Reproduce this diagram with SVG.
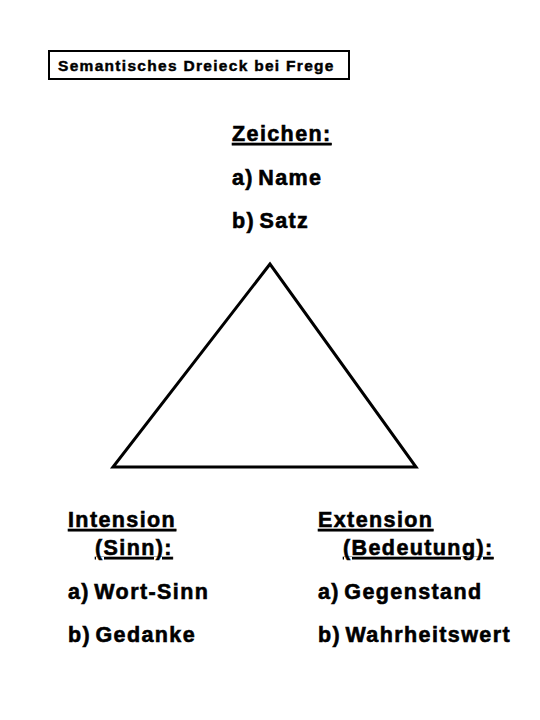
<svg xmlns="http://www.w3.org/2000/svg" width="540" height="720" viewBox="0 0 540 720">
<style>
.t{font-family:"Liberation Sans",Arial,sans-serif;font-weight:bold;font-size:21.5px;letter-spacing:1.4px;word-spacing:-3px;fill:#000;stroke:#000;stroke-width:0.6px}
.u{text-decoration:underline}
.title{font-family:"Liberation Sans",Arial,sans-serif;font-weight:bold;font-size:15.5px;letter-spacing:1.3px;fill:#000;stroke:#000;stroke-width:0.45px}
</style>
<rect width="540" height="720" fill="#fff"/>
<g id="title">
<rect x="49" y="51" width="300" height="28" fill="#fff" stroke="#000" stroke-width="2"/>
<text class="title" x="58" y="71">Semantisches Dreieck bei Frege</text>
</g>
<g id="connectors">
<polygon points="270,264 113,467 416,467" fill="none" stroke="#000" stroke-width="3" stroke-linejoin="miter"/>
</g>
<g id="zeichen">
<text class="t u" x="232" y="141">Zeichen:</text>
<text class="t" x="232" y="185">a) Name</text>
<text class="t" x="232" y="228">b) Satz</text>
</g>
<g id="intension">
<text class="t u" x="68" y="527">Intension</text>
<text class="t u" x="95" y="555">(Sinn):</text>
<text class="t" x="68" y="599">a) Wort-Sinn</text>
<text class="t" x="68" y="642">b) Gedanke</text>
</g>
<g id="extension">
<text class="t u" x="318" y="527">Extension</text>
<text class="t u" x="343" y="555">(Bedeutung):</text>
<text class="t" x="318" y="599">a) Gegenstand</text>
<text class="t" x="318" y="642">b) Wahrheitswert</text>
</g>
</svg>
